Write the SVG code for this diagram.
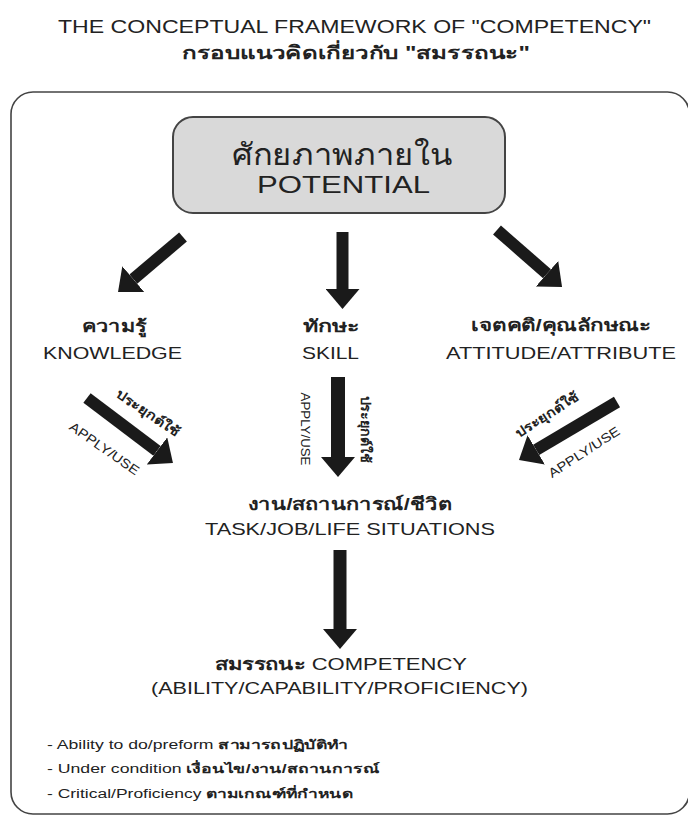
<svg xmlns="http://www.w3.org/2000/svg" width="688" height="816" viewBox="0 0 688 816">
<style>
  text { font-family: "Liberation Sans", "Noto Sans", "DejaVu Sans", sans-serif; fill: #222; }
  .t { font-size: 18px; }
  .big { font-size: 23px; }
  .lab { font-size: 17px; }
  .sm { font-size: 13px; }
  .bl { font-size: 12.5px; }
  .th { font-weight: bold; }
  .shaft { stroke: #1a1a1a; stroke-width: 12; fill: none; }
</style>
<defs>
  <marker id="ah" markerUnits="userSpaceOnUse" markerWidth="20" markerHeight="34" refX="0" refY="17" orient="auto" viewBox="0 0 20 34">
    <path d="M0,0 L20,17 L0,34 Z" fill="#1a1a1a"/>
  </marker>
</defs>
<rect width="688" height="816" fill="#fff"/>
<g id="title">
  <text class="t" x="354.5" y="33" text-anchor="middle" textLength="593" lengthAdjust="spacingAndGlyphs">THE CONCEPTUAL FRAMEWORK OF "COMPETENCY"</text>
  <text class="t th" x="356" y="59" text-anchor="middle" textLength="348" lengthAdjust="spacingAndGlyphs">กรอบแนวคิดเกี่ยวกับ "สมรรถนะ"</text>
</g>
<g id="frame">
  <rect x="11" y="92" width="678.5" height="722" rx="22" fill="none" stroke="#444" stroke-width="1.6"/>
</g>
<g id="potential">
  <rect x="173" y="117" width="332" height="96" rx="20" fill="#d9d9d9" stroke="#444" stroke-width="2"/>
  <text x="342.5" y="165" text-anchor="middle" textLength="221" lengthAdjust="spacingAndGlyphs" style="font-size:30px">ศักยภาพภายใน</text>
  <text class="big" x="343.5" y="193" text-anchor="middle" textLength="173" lengthAdjust="spacingAndGlyphs">POTENTIAL</text>
</g>
<g id="knowledge">
  <text class="lab th" x="114" y="332" text-anchor="middle" textLength="65" lengthAdjust="spacingAndGlyphs">ความรู้</text>
  <text class="lab" x="112.5" y="359" text-anchor="middle" textLength="139" lengthAdjust="spacingAndGlyphs">KNOWLEDGE</text>
</g>
<g id="skill">
  <text class="lab th" x="331" y="332" text-anchor="middle" textLength="56" lengthAdjust="spacingAndGlyphs">ทักษะ</text>
  <text class="lab" x="330.5" y="359" text-anchor="middle" textLength="57" lengthAdjust="spacingAndGlyphs">SKILL</text>
</g>
<g id="attitude">
  <text class="lab th" x="561" y="331" text-anchor="middle" textLength="180" lengthAdjust="spacingAndGlyphs">เจตคติ/คุณลักษณะ</text>
  <text class="lab" x="561" y="359" text-anchor="middle" textLength="230" lengthAdjust="spacingAndGlyphs">ATTITUDE/ATTRIBUTE</text>
</g>
<g id="situations">
  <text class="lab th" x="350" y="510" text-anchor="middle" textLength="204" lengthAdjust="spacingAndGlyphs">งาน/สถานการณ์/ชีวิต</text>
  <text class="lab" x="350" y="535" text-anchor="middle" textLength="290" lengthAdjust="spacingAndGlyphs">TASK/JOB/LIFE SITUATIONS</text>
</g>
<g id="competency">
  <text class="lab" x="341" y="670" text-anchor="middle" textLength="252" lengthAdjust="spacingAndGlyphs"><tspan class="th">สมรรถนะ</tspan> COMPETENCY</text>
  <text class="lab" x="339.5" y="694" text-anchor="middle" textLength="377" lengthAdjust="spacingAndGlyphs">(ABILITY/CAPABILITY/PROFICIENCY)</text>
  <text class="bl" x="47" y="749" textLength="301" lengthAdjust="spacingAndGlyphs">- Ability to do/preform <tspan class="th">สามารถปฏิบัติทำ</tspan></text>
  <text class="bl" x="47" y="773" textLength="333" lengthAdjust="spacingAndGlyphs">- Under condition <tspan class="th">เงื่อนไข/งาน/สถานการณ์</tspan></text>
  <text class="bl" x="47" y="798" textLength="306" lengthAdjust="spacingAndGlyphs">- Critical/Proficiency <tspan class="th">ตามเกณฑ์ที่กำหนด</tspan></text>
</g>
<g id="connectors">
  <line class="shaft" x1="183" y1="237" x2="133.3" y2="279.1" marker-end="url(#ah)"/>
  <line class="shaft" x1="342.5" y1="232" x2="342.5" y2="289" marker-end="url(#ah)"/>
  <line class="shaft" x1="497" y1="230" x2="547" y2="273.8" marker-end="url(#ah)"/>
  <line class="shaft" x1="87" y1="398" x2="157" y2="450.9" marker-end="url(#ah)"/>
  <line class="shaft" x1="338" y1="377" x2="338" y2="457" marker-end="url(#ah)" style="stroke-width:14"/>
  <line class="shaft" x1="617" y1="402" x2="536.2" y2="449.8" marker-end="url(#ah)"/>
  <line class="shaft" x1="340" y1="550" x2="340" y2="629" marker-end="url(#ah)" style="stroke-width:13"/>
  <text class="sm th" transform="translate(148,413) rotate(34)" text-anchor="middle" dy="0.35em" textLength="74" lengthAdjust="spacingAndGlyphs">ประยุกต์ใช้</text>
  <text class="sm" transform="translate(104.5,448.5) rotate(35)" text-anchor="middle" dy="0.35em" textLength="82" lengthAdjust="spacingAndGlyphs">APPLY/USE</text>
  <text class="sm" transform="translate(306,429) rotate(90)" text-anchor="middle" dy="0.35em" textLength="73" lengthAdjust="spacingAndGlyphs">APPLY/USE</text>
  <text class="sm th" transform="translate(366,429) rotate(90)" text-anchor="middle" dy="0.35em" textLength="67" lengthAdjust="spacingAndGlyphs">ประยุกต์ใช้</text>
  <text class="sm th" transform="translate(547,414.5) rotate(-33)" text-anchor="middle" dy="0.35em" textLength="72" lengthAdjust="spacingAndGlyphs">ประยุกต์ใช้</text>
  <text class="sm" transform="translate(584,452) rotate(-33)" text-anchor="middle" dy="0.35em" textLength="82" lengthAdjust="spacingAndGlyphs">APPLY/USE</text>
</g>
</svg>
